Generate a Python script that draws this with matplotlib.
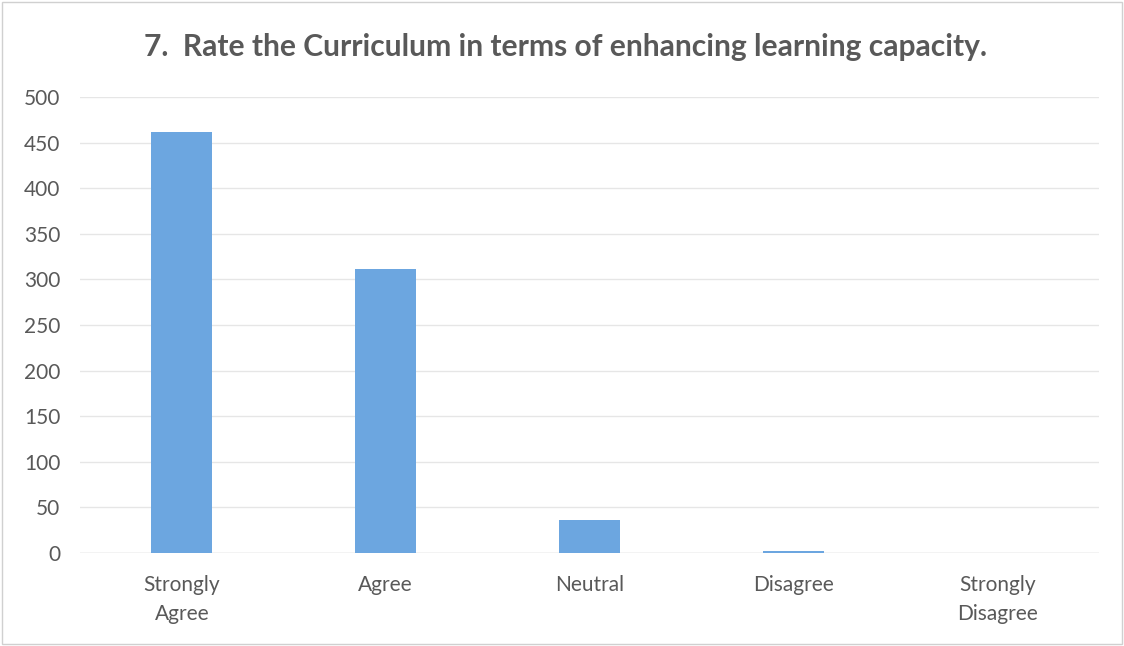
import matplotlib
matplotlib.use("Agg")
import matplotlib.pyplot as plt

categories = ["Strongly\nAgree", "Agree", "Neutral", "Disagree", "Strongly\nDisagree"]
values = [462, 311, 36, 2, 0]
yticks = [0, 50, 100, 150, 200, 250, 300, 350, 400, 450, 500]
title = "7.  Rate the Curriculum in terms of enhancing learning capacity."

plt.rcParams['font.family'] = ['Lato', 'DejaVu Sans']
fig = plt.figure(figsize=(11.24, 6.46), dpi=100)
ax = fig.add_axes([0.071, 0.144, 0.907, 0.706])

x = list(range(len(categories)))
ax.bar(x, values, width=0.3, color="#6CA6E0", zorder=3)
ax.set_xlim(-0.5, len(categories) - 0.5)
ax.set_ylim(0, 500)
ax.set_yticks(yticks)
ax.set_xticks(x)
ax.set_xticklabels(categories, fontsize=15, color="#595959", linespacing=1.55)
ax.tick_params(axis='y', labelsize=15, colors="#595959", length=0, pad=14)
ax.tick_params(axis='x', length=0, pad=16)
ax.grid(axis='y', color="#e6e6e6", linewidth=1, zorder=0)
for s in ax.spines.values():
    s.set_visible(False)
ax.axhline(0, color="#d9d9d9", linewidth=1, zorder=2)

fig.text(0.503, 0.927, title, ha='center', va='center', fontsize=21.6,
         fontweight='bold', color="#595959")
fig.patches.append(plt.Rectangle((0.002, 0.003), 0.996, 0.994, transform=fig.transFigure,
                                 fill=False, edgecolor="#d0d0d0", linewidth=1))
fig.savefig("out.png", dpi=100)
